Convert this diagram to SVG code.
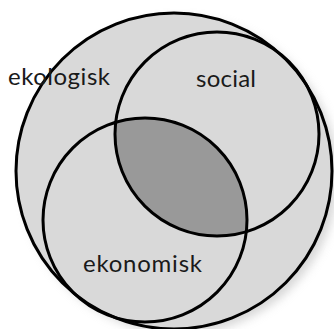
<svg xmlns="http://www.w3.org/2000/svg" width="334" height="329" viewBox="0 0 334 329">
<style>
.ring{fill:none;stroke:#000;stroke-width:3}
.lbl{font-family:Lato,"Open Sans","Liberation Sans",sans-serif;font-size:24px;fill:#1a1a1a}
</style>
<defs>
<filter id="sh" x="-20%" y="-20%" width="140%" height="140%">
<feGaussianBlur stdDeviation="5"/>
</filter>
<clipPath id="socClip"><circle cx="217" cy="134" r="102"/></clipPath>
</defs>
<rect width="334" height="329" fill="#fff"/>
<circle cx="180" cy="176" r="158" fill="#bdbdbd" opacity="0.6" filter="url(#sh)"/>
<g id="ekologisk">
<circle cx="174" cy="171" r="158" fill="#d9d9d9"/>
</g>
<g id="overlap">
<circle cx="145" cy="220" r="102" fill="#999" clip-path="url(#socClip)"/>
</g>
<g id="ekologisk-ring">
<circle class="ring" cx="174" cy="171" r="158"/>
<text class="lbl" x="8" y="85" textLength="102">ekologisk</text>
</g>
<g id="social">
<circle class="ring" cx="217" cy="134" r="102"/>
<text class="lbl" x="196" y="87" textLength="60">social</text>
</g>
<g id="ekonomisk">
<circle class="ring" cx="145" cy="220" r="102"/>
<text class="lbl" x="83" y="272" textLength="119">ekonomisk</text>
</g>
<g id="connectors"/>
</svg>
